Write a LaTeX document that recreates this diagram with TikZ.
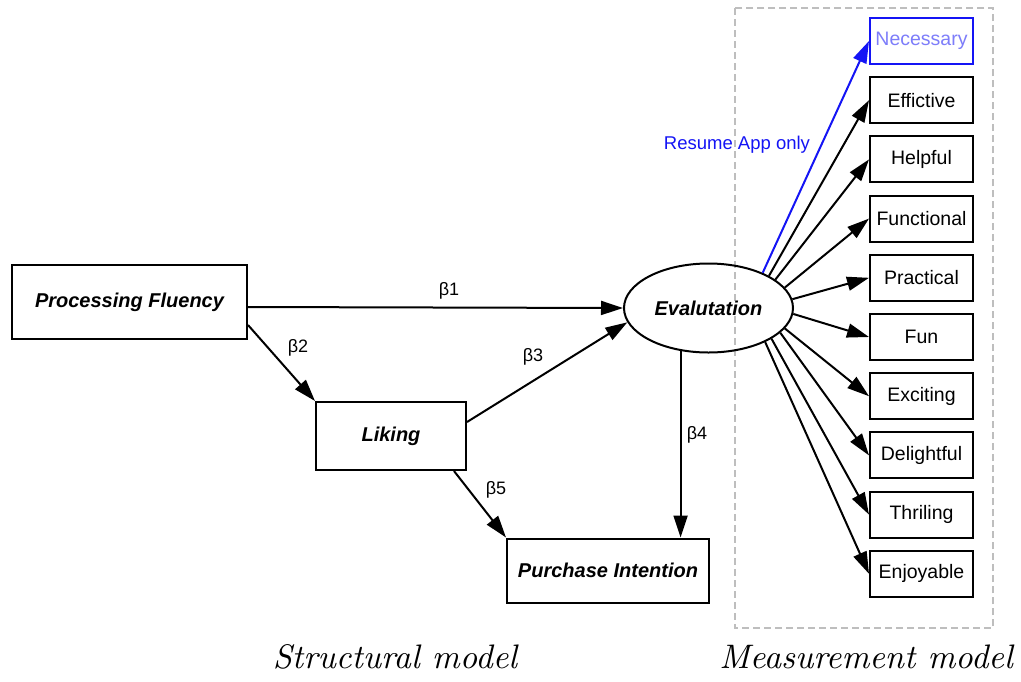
\documentclass[tikz,border=0pt]{standalone}
\usepackage{fontspec}
\newfontfamily\arial{Liberation Sans}
\newfontfamily\lmten{lmroman10-italic}[Extension=.otf]
\usetikzlibrary{shapes.geometric,arrows.meta}
\definecolor{pureblue}{RGB}{20,20,245}
\definecolor{lightblue}{RGB}{125,125,250}
\definecolor{dashgray}{RGB}{190,190,190}
\begin{document}
\begin{tikzpicture}[x=1pt,y=-1pt,
  arr/.style={-{Triangle[length=22pt,width=14pt]}, line width=2pt},
  struct/.style={draw, line width=2pt, rectangle, inner sep=0pt, font=\arial\fontsize{20}{23}\selectfont\bfseries\itshape},
  meas/.style={draw, line width=2pt, rectangle, inner sep=0pt, minimum width=103pt, minimum height=46pt, font=\arial\fontsize{19.5}{22}\selectfont},
  betalabel/.style={font=\arial\fontsize{18}{20}\selectfont, inner sep=0pt},
  caption/.style={font=\lmten\fontsize{34}{40}\selectfont, anchor=base, inner sep=0pt}]
\useasboundingbox (0,0) rectangle (1021,681);
\fill[white] (0,0) rectangle (1021,681);
% measurement model frame
\draw[dashgray, line width=1.4pt, dash pattern=on 7pt off 4pt] (735,8) rectangle (993,628);
% structural nodes
\node[struct, minimum width=235pt, minimum height=74pt] (pf) at (129.5,302) {Processing Fluency};
\node[struct, minimum width=150pt, minimum height=68pt] (lk) at (391,436) {Liking};
\node[struct, minimum width=202pt, minimum height=64pt] (pi) at (608,570.5) {Purchase Intention};
\node[draw, ellipse, line width=2pt, inner sep=0pt, minimum width=169pt, minimum height=89pt,
      font=\arial\fontsize{20}{23}\selectfont\bfseries\itshape] (ev) at (708.5,308) {Evalutation};
% measurement nodes
\node[meas, draw=pureblue, text=lightblue] (m0) at (921.5,41) {Necessary};
\node[meas] (m1) at (921.5,100.2) {Effictive};
\node[meas] (m2) at (921.5,159.4) {Helpful};
\node[meas] (m3) at (921.5,218.6) {Functional};
\node[meas] (m4) at (921.5,277.8) {Practical};
\node[meas] (m5) at (921.5,337) {Fun};
\node[meas] (m6) at (921.5,396.2) {Exciting};
\node[meas] (m7) at (921.5,455.4) {Delightful};
\node[meas] (m8) at (921.5,514.6) {Thriling};
\node[meas] (m9) at (921.5,573.8) {Enjoyable};
% structural paths
\draw[arr] ([yshift=-5pt]pf.east) -- (ev.west);
\draw[arr] ([yshift=-23pt]pf.east) -- (lk.north west);
\draw[arr] ([yshift=14pt]lk.east) -- (ev.190);
\draw[arr] (ev.237) -- (ev.237 |- pi.north);
\draw[arr] ([xshift=-13pt]lk.south east) -- (pi.north west);
% beta labels
\node[betalabel] (b1) at (449,291) {β1};
\node[betalabel] (b2) at (298,348) {β2};
\node[betalabel] (b3) at (533,357) {β3};
\node[betalabel] (b4) at (697,435) {β4};
\node[betalabel] (b5) at (496,490) {β5};
% measurement paths
\draw[arr, pureblue] (ev.33) -- (m0.west);
\draw[arr] (ev.28) -- (m1.west);
\draw[arr] (ev.23) -- (m2.west);
\draw[arr] (ev.15) -- (m3.west);
\draw[arr] (ev.6) -- (m4.west);
\draw[arr] (ev.-4) -- (m5.west);
\draw[arr] (ev.-15) -- (m6.west);
\draw[arr] (ev.-19) -- (m7.west);
\draw[arr] (ev.-26) -- (m8.west);
\draw[arr] (ev.-31) -- (m9.west);
\node[betalabel, text=pureblue, font=\arial\fontsize{18.5}{20}\selectfont] (ra) at (737,145) {Resume App only};
% captions
\node[caption] (cs) at (395,668) {Structural model};
\node[caption] (cm) at (866,668) {Measurement model};
\end{tikzpicture}
\end{document}
